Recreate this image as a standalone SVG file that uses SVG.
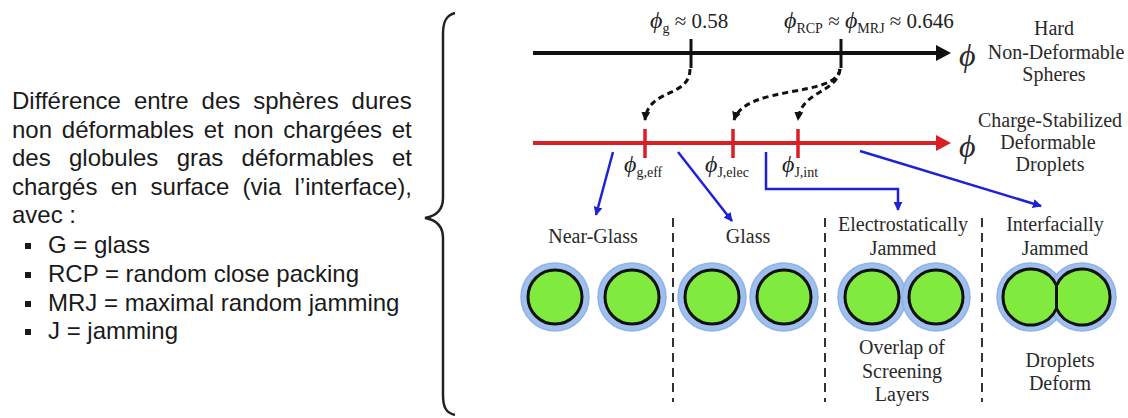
<svg xmlns="http://www.w3.org/2000/svg" width="1128" height="418" viewBox="0 0 1128 418">
<style>
.lt{font-family:"Liberation Sans",Arial,sans-serif;font-size:24px;fill:#1a1a1a}
.tm{font-family:"Liberation Serif","Times New Roman",serif;font-size:20px;fill:#2a2a2a}
.ph{font-family:"Liberation Serif","Times New Roman",serif;font-size:21px;fill:#222}
.it{font-style:italic}
.big{font-size:24px}
.huge{font-size:32px}
.sub{font-size:14px}
.ring{fill:#9fbfec;stroke:#8fb2e6;stroke-width:1.5}
.core{fill:#80ea3e;stroke:#111;stroke-width:3}
.sep{stroke:#333;stroke-width:2;stroke-dasharray:9 6;fill:none}
.dash{stroke:#111;stroke-width:3;stroke-dasharray:6 4;fill:none}
.blue{stroke:#1f22d4;stroke-width:2.5;fill:none}
</style>
<defs>
<marker id="ak" viewBox="0 0 10 10" refX="9" refY="5" markerWidth="9" markerHeight="9" markerUnits="userSpaceOnUse" orient="auto"><path d="M0,0 L10,5 L0,10 Z" fill="#111"/></marker>
<marker id="ab" viewBox="0 0 10 10" refX="9" refY="5" markerWidth="9" markerHeight="9" markerUnits="userSpaceOnUse" orient="auto"><path d="M0,0 L10,5 L0,10 Z" fill="#1f22d4"/></marker>
</defs>
<rect width="1128" height="418" fill="#fff"/>

<g id="description">
<text class="lt" x="12" y="109" word-spacing="6.3">Différence entre des sphères dures</text>
<text class="lt" x="12" y="138" word-spacing="3.1">non déformables et non chargées et</text>
<text class="lt" x="12" y="166" word-spacing="11.6">des globules gras déformables et</text>
<text class="lt" x="12" y="195" word-spacing="6.6">chargés en surface (via l’interface),</text>
<text class="lt" x="12" y="223">avec :</text>
<rect x="25" y="243" width="6" height="6" fill="#1a1a1a"/>
<text class="lt" x="48" y="253">G = glass</text>
<rect x="25" y="272" width="6" height="6" fill="#1a1a1a"/>
<text class="lt" x="48" y="282">RCP = random close packing</text>
<rect x="25" y="301" width="6" height="6" fill="#1a1a1a"/>
<text class="lt" x="48" y="311">MRJ = maximal random jamming</text>
<rect x="25" y="329" width="6" height="6" fill="#1a1a1a"/>
<text class="lt" x="48" y="339">J = jamming</text>
</g>

<g id="brace">
<path d="M455,13 C446,15 443,22 443,34 L443,198 C443,210 436,216 425,218 C436,220 443,226 443,238 L443,395 C443,407 446,413 455,415" fill="none" stroke="#222" stroke-width="2.5"/>
</g>

<g id="hard-axis">
<line x1="533" y1="53" x2="938" y2="53" stroke="#111" stroke-width="4"/>
<path d="M936,45 L951,53 L936,61 Z" fill="#111"/>
<line x1="691" y1="39" x2="691" y2="68" stroke="#111" stroke-width="3"/>
<line x1="841" y1="39" x2="841" y2="68" stroke="#111" stroke-width="3"/>
<text class="ph" x="650" y="28"><tspan class="it big">ϕ</tspan><tspan class="sub" dy="5">g</tspan><tspan dy="-5"> ≈ 0.58</tspan></text>
<text class="ph" x="784" y="28"><tspan class="it big">ϕ</tspan><tspan class="sub" dy="5">RCP</tspan><tspan dy="-5"> ≈ </tspan><tspan class="it big">ϕ</tspan><tspan class="sub" dy="5">MRJ</tspan><tspan dy="-5"> ≈ 0.646</tspan></text>
<text class="tm it huge" x="959" y="66">ϕ</text>
<text class="tm" x="1054" y="35" text-anchor="middle">Hard</text>
<text class="tm" x="1056" y="59" text-anchor="middle">Non-Deformable</text>
<text class="tm" x="1054" y="81" text-anchor="middle">Spheres</text>
</g>

<g id="droplet-axis">
<line x1="533" y1="143" x2="938" y2="143" stroke="#d81f26" stroke-width="4"/>
<path d="M936,135 L951,143 L936,151 Z" fill="#d81f26"/>
<line x1="645" y1="129" x2="645" y2="158" stroke="#d81f26" stroke-width="3.5"/>
<line x1="733" y1="129" x2="733" y2="158" stroke="#d81f26" stroke-width="3.5"/>
<line x1="798" y1="129" x2="798" y2="158" stroke="#d81f26" stroke-width="3.5"/>
<text class="ph" x="624" y="172"><tspan class="it big">ϕ</tspan><tspan class="sub" dy="5">g,eff</tspan></text>
<text class="ph" x="705" y="172"><tspan class="it big">ϕ</tspan><tspan class="sub" dy="5">J,elec</tspan></text>
<text class="ph" x="782" y="172"><tspan class="it big">ϕ</tspan><tspan class="sub" dy="5">J,int</tspan></text>
<text class="tm it huge" x="959" y="157">ϕ</text>
<text class="tm" x="1050" y="127" text-anchor="middle">Charge-Stabilized</text>
<text class="tm" x="1048" y="149" text-anchor="middle">Deformable</text>
<text class="tm" x="1050" y="171" text-anchor="middle">Droplets</text>
</g>

<g id="connectors">
<path class="dash" d="M690,69 C690,98 648,88 645,120" marker-end="url(#ak)"/>
<path class="dash" d="M840,69 C837,98 746,84 734,120" marker-end="url(#ak)"/>
<path class="dash" d="M840,69 C837,94 801,90 798,120" marker-end="url(#ak)"/>
<path class="blue" d="M613,152 L596,215" marker-end="url(#ab)"/>
<path class="blue" d="M678,152 L732,221" marker-end="url(#ab)"/>
<path class="blue" d="M766,152 V189 H898 V210" marker-end="url(#ab)"/>
<path class="blue" d="M860,151 L1041,206" marker-end="url(#ab)"/>
</g>

<g id="separators">
<line class="sep" x1="673" y1="218" x2="673" y2="402"/>
<line class="sep" x1="825" y1="218" x2="825" y2="402"/>
<line class="sep" x1="982" y1="218" x2="982" y2="402"/>
</g>

<g id="near-glass">
<text class="tm" x="593" y="243" text-anchor="middle">Near-Glass</text>
<circle class="ring" cx="555" cy="297" r="34"/>
<circle class="core" cx="555" cy="297" r="27"/>
<circle class="ring" cx="632" cy="297" r="34"/>
<circle class="core" cx="632" cy="297" r="27"/>
</g>

<g id="glass">
<text class="tm" x="748" y="243" text-anchor="middle">Glass</text>
<circle class="ring" cx="712" cy="297" r="34"/>
<circle class="core" cx="712" cy="297" r="27"/>
<circle class="ring" cx="784" cy="297" r="34"/>
<circle class="core" cx="784" cy="297" r="27"/>
</g>

<g id="electrostatically-jammed">
<text class="tm" x="903" y="231" text-anchor="middle">Electrostatically</text>
<text class="tm" x="903" y="255" text-anchor="middle">Jammed</text>
<circle class="ring" cx="872" cy="297" r="34"/>
<circle class="ring" cx="936" cy="297" r="34"/>
<circle class="core" cx="872" cy="297" r="27"/>
<circle class="core" cx="936" cy="297" r="27"/>
<text class="tm" x="902" y="354" text-anchor="middle">Overlap of</text>
<text class="tm" x="902" y="378" text-anchor="middle">Screening</text>
<text class="tm" x="902" y="401" text-anchor="middle">Layers</text>
</g>

<g id="interfacially-jammed">
<text class="tm" x="1055" y="231" text-anchor="middle">Interfacially</text>
<text class="tm" x="1055" y="255" text-anchor="middle">Jammed</text>
<circle class="ring" cx="1031" cy="297" r="34"/>
<circle class="ring" cx="1082" cy="297" r="34"/>
<path class="core" d="M1056.5,285.5 A28,28 0 1,0 1056.5,308.5 Z"/>
<path class="core" d="M1056.5,285.5 A28,28 0 1,1 1056.5,308.5 Z"/>
<text class="tm" x="1060" y="367" text-anchor="middle">Droplets</text>
<text class="tm" x="1060" y="390" text-anchor="middle">Deform</text>
</g>
</svg>
